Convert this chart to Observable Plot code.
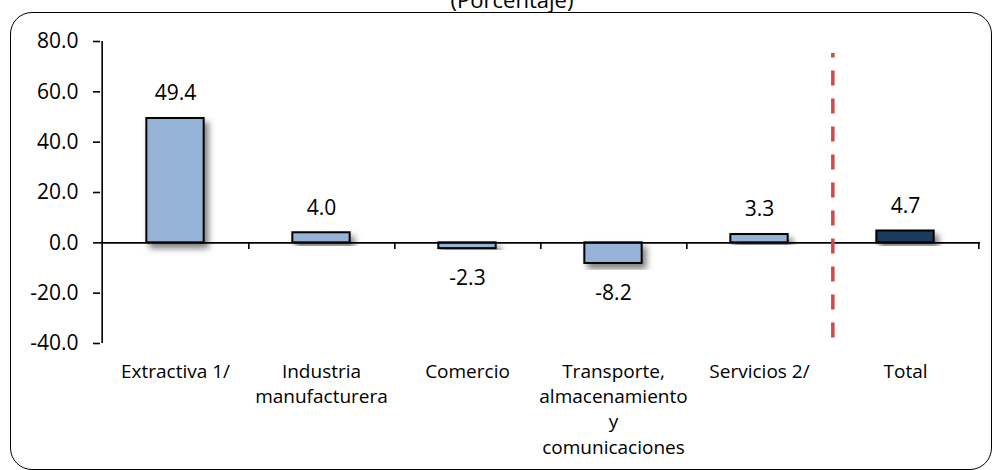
<!DOCTYPE html>
<html>
<head>
<meta charset="utf-8">
<script src="https://cdn.jsdelivr.net/npm/d3@7"></script>
<script src="https://cdn.jsdelivr.net/npm/@observablehq/plot@0.6"></script>
<style>
  html, body { margin: 0; padding: 0; background: #fff; }
  #wrap { position: relative; width: 995px; height: 470px; overflow: hidden; font-family: "Open Sans", sans-serif; }
  #title { position: absolute; top: -14px; left: 0; width: 1024px; text-align: center; font-size: 22px; line-height: 26px; color: #000; }
  #frame { position: absolute; left: 10px; top: 12px; width: 982px; height: 458px; border: 1.6px solid #000; border-radius: 22px; box-sizing: border-box; }
  #chart { position: absolute; left: 0; top: 0; }
</style>
</head>
<body>
<div id="wrap">
  <div id="frame"></div>
  <div id="title">(Porcentaje)</div>
  <div id="chart"></div>
</div>
<script>
const categories = ["Extractiva 1/", "Industria\nmanufacturera", "Comercio", "Transporte,\nalmacenamiento\ny\ncomunicaciones", "Servicios 2/", "Total"];
const values = [49.4, 4.0, -2.3, -8.2, 3.3, 4.7];
const highlight = ["Total"];
const yTicks = [-40, -20, 0, 20, 40, 60, 80];
const separatorAfter = ["Servicios 2/"];

const data = categories.map((c, i) => ({cat: c, value: values[i]}));
const W = 995, H = 470, mL = 100, mR = 15;
const step = (W - mL - mR) / categories.length;
const barW = 58;
const inset = (step - barW) / 2;
const numSize = 21;
const catSize = 19;

const chart = Plot.plot({
  width: W,
  height: H,
  marginLeft: mL,
  marginRight: mR,
  marginTop: 41,
  marginBottom: 127,
  style: {fontFamily: "'Open Sans', sans-serif", fontSize: catSize + "px", color: "#000", background: "transparent", overflow: "visible"},
  x: {domain: categories, padding: 0, axis: null},
  y: {domain: [-40, 80], label: null},
  marks: [
    Plot.axisY({ticks: yTicks, label: null, tickSize: 7, tickPadding: 15, tickFormat: d => d.toFixed(1), strokeWidth: 1.6, fontSize: numSize}),
    Plot.ruleX([categories[0]], {x: d => d, dx: -step / 2, y1: -40, y2: 80, stroke: "#000", strokeWidth: 1.6}),
    Plot.barY(data, {x: "cat", y: "value", insetLeft: inset, insetRight: inset,
      fill: d => highlight.includes(d.cat) ? "#1f3a5c" : "#95b3d7", stroke: "#000", strokeWidth: 2}),
    Plot.ruleY([0], {stroke: "#000", strokeWidth: 1.6}),
    Plot.ruleX(categories, {x: d => d, dx: step / 2, y1: 0, y2: -2.6, stroke: "#000", strokeWidth: 1.6}),
    Plot.ruleX(separatorAfter, {x: d => d, dx: step / 2, y1: -37.8, y2: 75.2, stroke: "#cf4a4a", strokeWidth: 3.5, strokeDasharray: "15,13"}),
    Plot.text(data.filter(d => d.value >= 0), {x: "cat", y: "value", text: d => d.value.toFixed(1), dy: -25, fontSize: numSize}),
    Plot.text(data.filter(d => d.value < 0), {x: "cat", y: "value", text: d => d.value.toFixed(1), dy: 30, fontSize: numSize}),
    Plot.text(categories, {x: d => d, y: () => -40, text: d => d, lineAnchor: "top", dy: 16, lineHeight: 1.34, fontSize: catSize})
  ]
});

document.getElementById("chart").appendChild(chart);

// drop shadow on the bars
const svg = d3.select(chart);
const defs = svg.insert("defs", ":first-child");
const f = defs.append("filter").attr("id", "barShadow").attr("x", "-30%").attr("y", "-30%").attr("width", "160%").attr("height", "160%");
f.append("feDropShadow").attr("dx", 4).attr("dy", 5).attr("stdDeviation", 3).attr("flood-color", "#000").attr("flood-opacity", 0.5);
svg.selectAll("g[aria-label='bar'] rect").attr("filter", "url(#barShadow)");
</script>
</body>
</html>
